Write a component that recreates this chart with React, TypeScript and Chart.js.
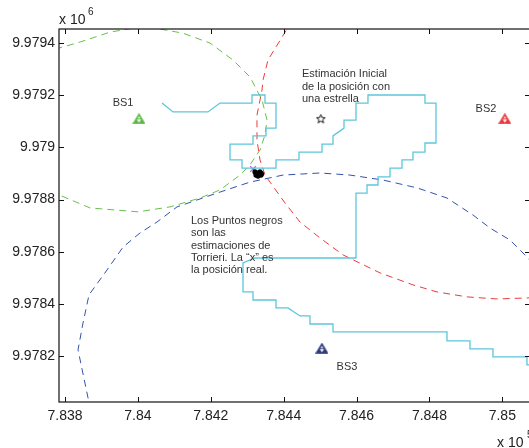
import React, { useEffect, useRef } from "react";
import { Chart, registerables } from "chart.js";

Chart.register(...registerables);

// ---- axis ticks (x in units of 1e5, y in units of 1e6) ----
const xTicks = [7.838, 7.84, 7.842, 7.844, 7.846, 7.848, 7.85];
const xTickLabels = ["7.838", "7.84", "7.842", "7.844", "7.846", "7.848", "7.85"];
const yTicks = [9.9782, 9.9784, 9.9786, 9.9788, 9.979, 9.9792, 9.9794];
const yTickLabels = ["9.9782", "9.9784", "9.9786", "9.9788", "9.979", "9.9792", "9.9794"];
const xRange = [7.837835, 7.85076];
const yRange = [9.978024, 9.979454];

// ---- base stations ----
const stationNames = ["BS1", "BS2", "BS3"];
const stationX = [7.84003, 7.85007, 7.84505];
const stationY = [9.97911, 9.97911, 9.97823];
const stationColors = ["#5cb845", "#e8383d", "#2c3a78"];
const stationLabelX = [7.839592, 7.849552, 7.845738];
const stationLabelY = [9.97917, 9.979147, 9.978159];

// ---- initial estimate (star) ----
const starX = [7.84502];
const starY = [9.97911];

// ---- Torrieri estimates (black dots) ----
const dotsX = [7.843214, 7.843269, 7.843323, 7.843378, 7.84324, 7.84335, 7.843296, 7.8434];
const dotsY = [9.978906, 9.978902, 9.978898, 9.978894, 9.978894, 9.978906, 9.97889, 9.9789];

// ---- real position (x) ----
const realX = [7.843159];
const realY = [9.978917];

// ---- range circle around BS1 (green) ----
const greenX = [7.837451, 7.837835, 7.838412, 7.839235, 7.84003, 7.840607, 7.841238, 7.841979, 7.84261, 7.843076, 7.843406, 7.843543, 7.843488, 7.843351, 7.843076, 7.842802, 7.842253, 7.841704, 7.840881, 7.840003, 7.838686, 7.837835, 7.837451];
const greenY = [9.979354, 9.979381, 9.979404, 9.979442, 9.979461, 9.979454, 9.979438, 9.9794, 9.979335, 9.97927, 9.979182, 9.979105, 9.979048, 9.97899, 9.978933, 9.978894, 9.978837, 9.978806, 9.978772, 9.978753, 9.978768, 9.978818, 9.978845];

// ---- range circle around BS2 (red) ----
const redX = [7.844229, 7.844092, 7.84357, 7.843433, 7.843406, 7.843268, 7.843268, 7.843351, 7.843488, 7.844037, 7.844448, 7.844997, 7.845628, 7.846644, 7.847549, 7.848208, 7.849031, 7.849854, 7.850705, 7.851171];
const redY = [9.979488, 9.979454, 9.979335, 9.979258, 9.97922, 9.979124, 9.979028, 9.978952, 9.978894, 9.978787, 9.978714, 9.978653, 9.978588, 9.978519, 9.978473, 9.978446, 9.978427, 9.978419, 9.978423, 9.978435];

// ---- range circle around BS3 (blue) ----
const blueX = [7.838741, 7.838631, 7.838357, 7.838494, 7.838659, 7.839152, 7.839592, 7.840058, 7.840524, 7.841073, 7.842171, 7.843076, 7.843982, 7.844997, 7.84582, 7.846726, 7.847659, 7.848482, 7.849195, 7.849662, 7.850211, 7.850705, 7.851034];
const blueY = [9.977994, 9.97804, 9.978224, 9.978327, 9.978435, 9.97853, 9.978618, 9.978672, 9.978714, 9.978772, 9.978825, 9.978867, 9.978894, 9.978902, 9.978894, 9.978875, 9.978845, 9.978806, 9.978741, 9.978691, 9.978645, 9.978576, 9.978523];

// ---- trajectory (cyan) ----
const pathX = [7.840662, 7.840964, 7.841924, 7.842253, 7.843131, 7.843131, 7.843488, 7.843488, 7.84379, 7.84379, 7.843515, 7.843515, 7.843159, 7.843159, 7.842528, 7.842528, 7.842857, 7.842857, 7.84379, 7.84379, 7.844421, 7.844421, 7.845052, 7.845052, 7.845354, 7.845354, 7.845656, 7.845656, 7.845985, 7.845985, 7.846314, 7.846314, 7.847878, 7.847878, 7.84818, 7.84818, 7.847878, 7.847878, 7.847549, 7.847549, 7.847247, 7.847247, 7.846918, 7.846918, 7.846589, 7.846589, 7.846287, 7.846287, 7.845985, 7.845985, 7.843214, 7.842884, 7.842884, 7.843159, 7.843159, 7.84379, 7.84379, 7.844119, 7.844448, 7.844723, 7.844723, 7.845354, 7.845354, 7.848482, 7.848482, 7.849113, 7.849113, 7.849744, 7.849744, 7.850677, 7.850677, 7.851034];
const pathY = [9.97917, 9.979136, 9.979136, 9.97917, 9.97917, 9.979201, 9.979201, 9.97917, 9.97917, 9.979074, 9.979074, 9.979044, 9.979044, 9.979013, 9.979013, 9.978952, 9.978952, 9.978921, 9.978921, 9.978952, 9.978952, 9.978982, 9.978982, 9.979013, 9.979013, 9.979044, 9.979074, 9.979105, 9.979105, 9.97917, 9.97917, 9.979201, 9.979201, 9.97917, 9.97917, 9.979017, 9.979017, 9.978982, 9.978982, 9.978952, 9.978952, 9.978921, 9.978921, 9.978887, 9.978887, 9.978856, 9.978856, 9.978825, 9.978825, 9.978576, 9.978576, 9.978557, 9.978446, 9.978446, 9.978415, 9.978415, 9.978385, 9.978385, 9.978354, 9.978354, 9.978323, 9.978323, 9.978293, 9.978293, 9.978258, 9.978258, 9.978228, 9.978228, 9.978197, 9.978197, 9.978166, 9.978166];

// ---- text notes (data coords of first line, left aligned) ----
const noteInitial = ["Estimación Inicial", "de la posición con", "una estrella"];
const noteInitialAt = [7.844503, 9.979281];
const noteTorrieri = ["Los Puntos negros", "son las", "estimaciones de", "Torrieri. La “x” es", "la posición real."];
const noteTorrieriAt = [7.841457, 9.978718];

const FONT = "'Liberation Sans', Arial, sans-serif";

function pts(xs: number[], ys: number[]) {
  return xs.map((x, i) => ({ x, y: ys[i] }));
}

function makeTriangle(color: string): HTMLCanvasElement {
  const c = document.createElement("canvas");
  c.width = 13;
  c.height = 11;
  const g = c.getContext("2d")!;
  g.beginPath();
  g.moveTo(6.5, 0.8);
  g.lineTo(12.2, 10.3);
  g.lineTo(0.8, 10.3);
  g.closePath();
  g.fillStyle = color;
  g.fill();
  g.beginPath();
  g.moveTo(4.3, 6.2);
  g.lineTo(8.7, 6.2);
  g.lineTo(6.5, 9.6);
  g.closePath();
  g.fillStyle = "#ffffff";
  g.fill();
  g.beginPath();
  g.moveTo(6.5, 2.9);
  g.lineTo(7.9, 5.3);
  g.lineTo(5.1, 5.3);
  g.closePath();
  g.fill();
  g.beginPath();
  g.moveTo(6.5, 0.8);
  g.lineTo(12.2, 10.3);
  g.lineTo(0.8, 10.3);
  g.closePath();
  g.strokeStyle = color;
  g.lineWidth = 1.1;
  g.stroke();
  return c;
}

function makeStar(): HTMLCanvasElement {
  const c = document.createElement("canvas");
  c.width = 11;
  c.height = 11;
  const g = c.getContext("2d")!;
  g.beginPath();
  for (let i = 0; i < 10; i++) {
    const r = i % 2 === 0 ? 4.6 : 2.0;
    const a = -Math.PI / 2 + (i * Math.PI) / 5;
    const px = 5.5 + r * Math.cos(a);
    const py = 5.9 + r * Math.sin(a);
    if (i === 0) g.moveTo(px, py);
    else g.lineTo(px, py);
  }
  g.closePath();
  g.strokeStyle = "#111";
  g.lineWidth = 1;
  g.stroke();
  return c;
}

export default function App() {
  const ref = useRef<HTMLCanvasElement | null>(null);

  useEffect(() => {
    if (!ref.current) return;

    const triangles = stationColors.map(makeTriangle);
    const star = makeStar();

    const framePlugin = {
      id: "frame",
      afterDraw(chart: any) {
        const { ctx, chartArea: a, scales } = chart;
        const xs = scales.x;
        const ys = scales.y;
        ctx.save();
        ctx.strokeStyle = "#111";
        ctx.lineWidth = 1.2;
        ctx.strokeRect(a.left, a.top, a.right - a.left, a.bottom - a.top);
        ctx.beginPath();
        xTicks.forEach((v) => {
          const p = Math.round(xs.getPixelForValue(v)) + 0.5;
          ctx.moveTo(p, a.bottom);
          ctx.lineTo(p, a.bottom - 5);
          ctx.moveTo(p, a.top);
          ctx.lineTo(p, a.top + 5);
        });
        yTicks.forEach((v) => {
          const p = Math.round(ys.getPixelForValue(v)) + 0.5;
          ctx.moveTo(a.left, p);
          ctx.lineTo(a.left + 5, p);
          ctx.moveTo(a.right, p);
          ctx.lineTo(a.right - 5, p);
        });
        ctx.lineWidth = 1;
        ctx.stroke();

        // exponent labels
        ctx.fillStyle = "#222";
        ctx.textBaseline = "alphabetic";
        ctx.textAlign = "left";
        ctx.font = `14px ${FONT}`;
        ctx.fillText("x 10", a.left + 0, a.top - 5);
        ctx.fillText("x 10", a.right - 33, 447);
        ctx.font = `10px ${FONT}`;
        ctx.fillText("6", a.left + 29, a.top - 14);
        ctx.fillText("5", a.right - 3, 438);

        // notes
        ctx.fillStyle = "#333";
        ctx.textBaseline = "middle";
        ctx.font = `11px ${FONT}`;
        const drawNote = (lines: string[], at: number[], lh: number) => {
          const x0 = xs.getPixelForValue(at[0]);
          const y0 = ys.getPixelForValue(at[1]);
          lines.forEach((t, i) => ctx.fillText(t, x0, y0 + i * lh));
        };
        drawNote(noteInitial, noteInitialAt, 12.5);
        drawNote(noteTorrieri, noteTorrieriAt, 12.3);
        ctx.textAlign = "center";
        stationNames.forEach((n, i) => {
          ctx.fillText(n, xs.getPixelForValue(stationLabelX[i]), ys.getPixelForValue(stationLabelY[i]));
        });
        ctx.restore();
      },
    };

    const dashed = (xs: number[], ys: number[], color: string) => ({
      type: "line" as const,
      data: pts(xs, ys),
      borderColor: color,
      borderWidth: 1,
      borderDash: [7, 5],
      pointRadius: 0,
      fill: false,
      tension: 0,
    });

    const chart = new Chart(ref.current, {
      type: "line",
      data: {
        datasets: [
          {
            type: "line",
            data: pts(pathX, pathY),
            borderColor: "#5cc6dc",
            borderWidth: 1.3,
            pointRadius: 0,
            fill: false,
            tension: 0,
          },
          dashed(greenX, greenY, "#68bf4c"),
          dashed(redX, redY, "#ec3b3b"),
          dashed(blueX, blueY, "#3552aa"),
          {
            type: "scatter",
            data: pts(dotsX, dotsY),
            backgroundColor: "#000",
            borderColor: "#000",
            pointRadius: 2.6,
            borderWidth: 0,
          },
          {
            type: "scatter",
            data: pts(realX, realY),
            pointStyle: "crossRot",
            borderColor: "#a86cc8",
            borderWidth: 1.3,
            pointRadius: 4,
          },
          ...stationX.map((sx, i) => ({
            type: "scatter" as const,
            data: [{ x: sx, y: stationY[i] }],
            pointStyle: triangles[i] as any,
            pointRadius: 6,
          })),
          {
            type: "scatter",
            data: pts(starX, starY),
            pointStyle: star as any,
            pointRadius: 5,
          },
        ] as any,
      },
      options: {
        responsive: false,
        animation: false,
        layout: { padding: { top: 29, left: 0, right: 10, bottom: 0 } },
        plugins: { legend: { display: false }, tooltip: { enabled: false } },
        events: [],
        scales: {
          x: {
            type: "linear",
            min: xRange[0],
            max: xRange[1],
            grid: { display: false, drawTicks: false },
            border: { display: false },
            afterBuildTicks: (s: any) => {
              s.ticks = xTicks.map((v) => ({ value: v }));
            },
            afterFit: (s: any) => {
              s.height = 46;
            },
            ticks: {
              color: "#222",
              font: { family: FONT, size: 14 },
              padding: 6,
              maxRotation: 0,
              autoSkip: false,
              callback: (_v: any, i: number) => xTickLabels[i],
            },
          },
          y: {
            type: "linear",
            min: yRange[0],
            max: yRange[1],
            grid: { display: false, drawTicks: false },
            border: { display: false },
            afterBuildTicks: (s: any) => {
              s.ticks = yTicks.map((v) => ({ value: v }));
            },
            afterFit: (s: any) => {
              s.width = 59;
            },
            ticks: {
              color: "#222",
              font: { family: FONT, size: 14 },
              padding: 4,
              autoSkip: false,
              callback: (_v: any, i: number) => yTickLabels[i],
            },
          },
        },
      },
      plugins: [framePlugin],
    });

    return () => chart.destroy();
  }, []);

  return (
    <div
      style={{
        position: "fixed",
        left: 0,
        top: 0,
        width: 529,
        height: 448,
        overflow: "hidden",
        background: "#fff",
      }}
    >
      <canvas ref={ref} width={540} height={448} style={{ width: 540, height: 448, display: "block" }} />
    </div>
  );
}
